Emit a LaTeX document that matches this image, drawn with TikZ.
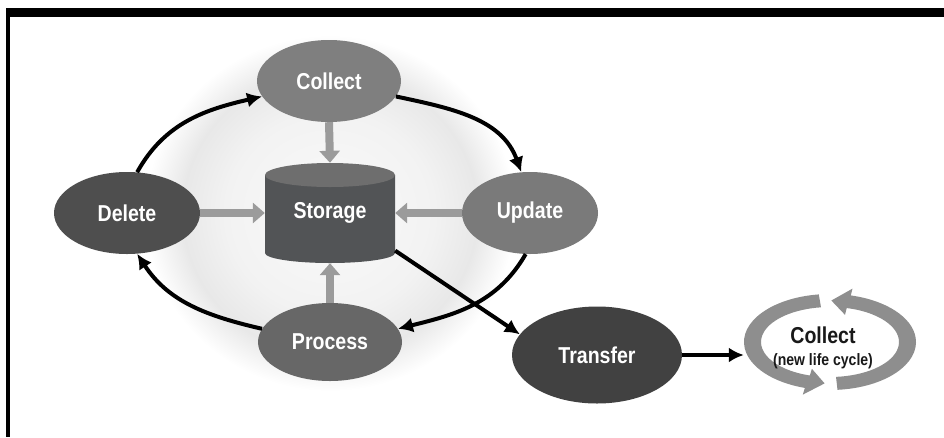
\documentclass[tikz,border=0pt]{standalone}
\usepackage{fontspec}
\setmainfont{Liberation Sans}[FakeStretch=0.85]
\usetikzlibrary{shapes.geometric,arrows.meta,calc}
\definecolor{cCollect}{HTML}{7F7F7F}
\definecolor{cUpdate}{HTML}{7A7A7A}
\definecolor{cProcess}{HTML}{676767}
\definecolor{cDelete}{HTML}{4E4E4E}
\definecolor{cTransfer}{HTML}{414141}
\definecolor{cStoBody}{HTML}{525456}
\definecolor{cStoTop}{HTML}{6E6E6E}
\definecolor{cArrow}{HTML}{9B9B9B}
\definecolor{cBand}{HTML}{8E8E8E}
\pgfdeclareradialshading{glow}{\pgfpoint{0bp}{0bp}}{color(0bp)=(black!2); color(14bp)=(black!5); color(20bp)=(black!9); color(25bp)=(white); color(50bp)=(white)}
\begin{document}
\begin{tikzpicture}[x=1pt,y=1pt,
  oval/.style={ellipse, inner sep=0pt, text=white, font=\fontsize{23}{26}\selectfont\bfseries},
  blk/.style={line width=4pt, -{Latex[length=15pt,width=15pt]}},
  gry/.style={draw=cArrow, line width=8pt, -{Triangle[length=12pt,width=20pt]}},
  lbl/.style={inner sep=0pt, text=black!90, font=\fontsize{23}{26}\selectfont\bfseries},
]
\useasboundingbox (0,0) rectangle (944,-437);
\fill[white] (0,0) rectangle (944,-437);
\fill[black] (6,-8) rectangle (944,-17);
\fill[black] (6,-8) rectangle (10,-437);

% background glow
\shade[shading=glow] (330,-213) ellipse [x radius=185, y radius=178];

% storage cylinder
\fill[cStoBody] (265,-175) -- (265,-253) arc[start angle=180, end angle=360, x radius=65, y radius=10] -- (395,-175) -- cycle;
\fill[cStoTop] (330,-175) ellipse [x radius=65, y radius=12];
\node[rectangle, inner sep=0pt, minimum width=130pt, minimum height=100pt, text=white, font=\fontsize{23}{26}\selectfont\bfseries] (sto) at (330,-213) {Storage};

% process nodes
\node[oval, fill=cCollect, minimum width=144pt, minimum height=82pt] (col) at (329,-81) {Collect};
\node[oval, fill=cDelete, minimum width=146pt, minimum height=82pt] (del) at (127,-213) {Delete};
\node[oval, fill=cUpdate, minimum width=136pt, minimum height=82pt] (upd) at (530,-213) {Update};
\node[oval, fill=cProcess, minimum width=144pt, minimum height=78pt] (pro) at (330,-342) {Process};
\node[oval, fill=cTransfer, minimum width=170pt, minimum height=97pt] (tra) at (597,-355) {Transfer};

% gray arrows into storage
\draw[gry] (col.south) -- (sto.north);
\draw[gry] (del.east) -- (sto.west);
\draw[gry] (upd.west) -- (sto.east);
\draw[gry] (pro.north) -- (sto.south);

% black cycle arrows
\draw[blk] (del.76) to[out=61, in=193] (col.193);
\draw[blk] (col.347) to[out=-12, in=110] (upd.102);
\draw[blk] (upd.264) to[out=240, in=14] (pro.11);
\draw[blk] (pro.169) to[out=167, in=303] (del.284);

% storage to transfer
\draw[blk] (sto.-30) -- (tra.165);

% new life cycle
\node[ellipse, inner sep=0pt, minimum width=172pt, minimum height=96pt] (cyc) at (830,-342) {};
\fill[cBand] ($(cyc.center)+(97.5:86 and 48)$)
  arc[start angle=97.5, end angle=253, x radius=86, y radius=48]
  -- ($(cyc.center)+(253:93 and 55)$)
  -- ($(cyc.center)+(266:77.5 and 41.5)$)
  -- ($(cyc.center)+(253:62 and 28)$)
  -- ($(cyc.center)+(253:69 and 35)$)
  arc[start angle=253, end angle=97.5, x radius=69, y radius=35] -- cycle;
\fill[cBand] ($(cyc.center)+(275:86 and 48)$)
  arc[start angle=275, end angle=436, x radius=86, y radius=48]
  -- ($(cyc.center)+(436:93 and 55)$)
  -- ($(cyc.center)+(449:77.5 and 41.5)$)
  -- ($(cyc.center)+(436:62 and 28)$)
  -- ($(cyc.center)+(436:69 and 35)$)
  arc[start angle=436, end angle=275, x radius=69, y radius=35] -- cycle;
\node[lbl] (cyct) at (823,-335) {Collect};
\node[lbl, font=\fontsize{16.5}{19}\selectfont\bfseries] (cycs) at (823,-361) {(new life cycle)};

\draw[blk] (tra.east) -- (tra.east -| cyc.west);
\end{tikzpicture}
\end{document}
